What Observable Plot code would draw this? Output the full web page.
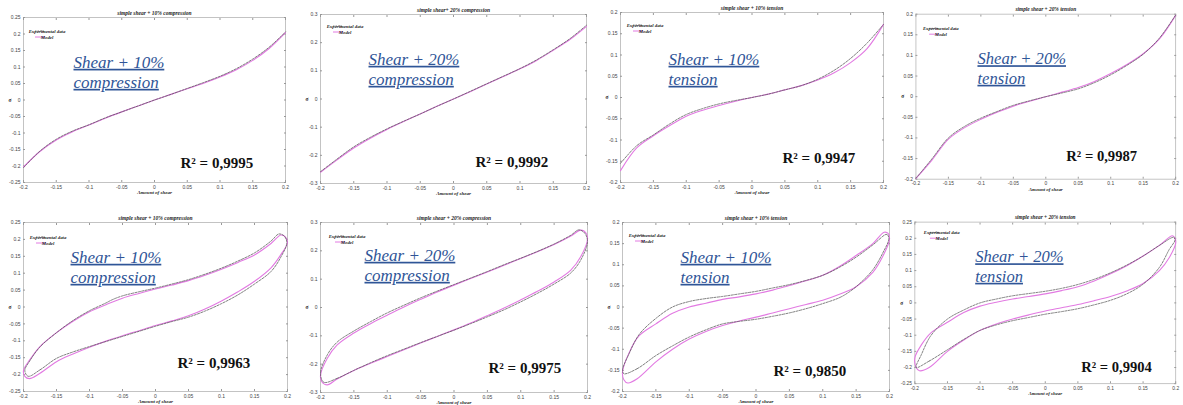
<!DOCTYPE html>
<html>
<head>
<meta charset="utf-8">
<script src="https://cdn.jsdelivr.net/npm/d3@7"></script>
<script src="https://cdn.jsdelivr.net/npm/@observablehq/plot@0.6"></script>
<style>
html,body{margin:0;padding:0;background:#fff;}
body{position:relative;width:1183px;height:405px;overflow:hidden;}
.panel{position:absolute;}
g[fill="#2f5597"] text{ text-decoration: underline; text-decoration-thickness: 1.2px; }
</style>
</head>
<body>
<div id="root"></div>
<script>
// ---------- data ----------
const titles = ["simple shear + 10% compression","simple shear+ 20% compression","simple shear + 10% tension","simple shear + 20% tension",
                "simple shear + 10% compression","simple shear + 20% compression","simple shear + 10% tension","simple shear + 20% tension"];
const bigLabels = ["Shear + 10%\ncompression","Shear + 20%\ncompression","Shear + 10%\ntension","Shear + 20%\ntension",
                   "Shear + 10%\ncompression","Shear + 20%\ncompression","Shear + 10%\ntension","Shear + 20%\ntension"];
const r2Labels = ["R² = 0,9995","R² = 0,9992","R² = 0,9947","R² = 0,9987","R² = 0,9963","R² = 0,9975","R² = 0,9850","R² = 0,9904"];
const xLabel = "Amount of shear";
const yLabel = "σ";
const legendLabels = ["Experimental data","Model"];
const xTicks = [-0.2,-0.15,-0.1,-0.05,0,0.05,0.1,0.15,0.2];
const yTicks20 = [-0.2,-0.15,-0.1,-0.05,0,0.05,0.1,0.15,0.2];
const yTicks25 = [-0.25,-0.2,-0.15,-0.1,-0.05,0,0.05,0.1,0.15,0.2,0.25];
const yTicks30 = [-0.3,-0.2,-0.1,0,0.1,0.2,0.3];
const yDomains = [[-0.25,0.25],[-0.3,0.3],[-0.2,0.2],[-0.2,0.2],[-0.25,0.25],[-0.3,0.3],[-0.2,0.2],[-0.25,0.25]];
const yTickSets = [yTicks25,yTicks30,yTicks20,yTicks20,yTicks25,yTicks30,yTicks20,yTicks25];

// top row: monotonic loading curves
const shearX = [-0.2,-0.175,-0.15,-0.125,-0.1,-0.075,-0.05,-0.025,0,0.025,0.05,0.075,0.1,0.125,0.15,0.175,0.2];
const exp1 = [-0.205,-0.155,-0.119,-0.094,-0.075,-0.054,-0.036,-0.018,0,0.017,0.035,0.053,0.072,0.095,0.124,0.160,0.206];
const mod1 = [-0.203,-0.156,-0.121,-0.096,-0.076,-0.055,-0.036,-0.018,0,0.017,0.034,0.051,0.070,0.092,0.120,0.156,0.204];
const exp2 = [-0.258,-0.213,-0.170,-0.136,-0.106,-0.079,-0.053,-0.026,0,0.027,0.054,0.081,0.108,0.139,0.175,0.214,0.262];
const mod2 = [-0.260,-0.216,-0.174,-0.139,-0.108,-0.080,-0.053,-0.026,0,0.026,0.053,0.080,0.107,0.137,0.173,0.211,0.258];
const exp3 = [-0.155,-0.113,-0.088,-0.062,-0.040,-0.026,-0.015,-0.007,0,0.008,0.018,0.028,0.043,0.064,0.092,0.128,0.172];
const mod3 = [-0.172,-0.118,-0.090,-0.066,-0.044,-0.030,-0.019,-0.009,0,0.008,0.018,0.028,0.041,0.058,0.082,0.115,0.172];
const exp4 = [-0.198,-0.150,-0.100,-0.072,-0.052,-0.036,-0.021,-0.010,0,0.009,0.019,0.034,0.053,0.076,0.103,0.142,0.198];
const mod4 = [-0.198,-0.153,-0.103,-0.075,-0.055,-0.038,-0.023,-0.011,0,0.011,0.022,0.037,0.056,0.078,0.104,0.140,0.197];

// bottom row: hysteresis loops, [shear, stress] in traversal order
const exp5 = [[-0.193,-0.205],[-0.175,-0.186],[-0.15,-0.152],[-0.125,-0.133],[-0.1,-0.117],[-0.075,-0.102],[-0.05,-0.087],[-0.025,-0.072],[0,-0.057],[0.025,-0.043],[0.05,-0.030],[0.075,-0.012],[0.1,0.010],[0.125,0.036],[0.15,0.068],[0.175,0.105],[0.19,0.148],[0.199,0.190],[0.195,0.210],[0.187,0.216],
  [0.175,0.195],[0.15,0.160],[0.125,0.136],[0.1,0.115],[0.075,0.097],[0.05,0.081],[0.025,0.068],[0,0.056],[-0.025,0.045],[-0.05,0.033],[-0.065,0.022],[-0.075,0.012],[-0.1,-0.011],[-0.125,-0.040],[-0.15,-0.076],[-0.175,-0.118],[-0.19,-0.158],[-0.198,-0.188]];
const mod5 = [[-0.191,-0.212],[-0.175,-0.196],[-0.15,-0.162],[-0.125,-0.139],[-0.1,-0.119],[-0.075,-0.101],[-0.05,-0.085],[-0.025,-0.070],[0,-0.055],[0.025,-0.041],[0.05,-0.026],[0.075,-0.006],[0.1,0.018],[0.125,0.045],[0.15,0.076],[0.175,0.116],[0.19,0.155],[0.2,0.190],[0.197,0.207],[0.19,0.213],
  [0.175,0.188],[0.15,0.154],[0.125,0.132],[0.1,0.112],[0.075,0.094],[0.05,0.078],[0.025,0.065],[0,0.053],[-0.025,0.040],[-0.05,0.026],[-0.075,0.007],[-0.1,-0.014],[-0.125,-0.042],[-0.15,-0.076],[-0.175,-0.117],[-0.19,-0.155],[-0.2,-0.188],[-0.198,-0.205]];
const exp6 = [[-0.195,-0.264],[-0.175,-0.250],[-0.15,-0.222],[-0.125,-0.195],[-0.1,-0.170],[-0.075,-0.147],[-0.05,-0.124],[-0.025,-0.102],[0,-0.080],[0.025,-0.057],[0.05,-0.033],[0.075,-0.008],[0.1,0.020],[0.125,0.050],[0.15,0.083],[0.175,0.122],[0.19,0.168],[0.2,0.232],[0.196,0.262],[0.187,0.274],
  [0.175,0.255],[0.15,0.224],[0.125,0.198],[0.1,0.174],[0.075,0.151],[0.05,0.127],[0.025,0.104],[0,0.081],[-0.025,0.058],[-0.05,0.034],[-0.075,0.008],[-0.1,-0.019],[-0.125,-0.050],[-0.15,-0.083],[-0.175,-0.122],[-0.19,-0.168],[-0.2,-0.232]];
const mod6 = [[-0.19,-0.273],[-0.175,-0.252],[-0.15,-0.222],[-0.125,-0.197],[-0.1,-0.173],[-0.075,-0.149],[-0.05,-0.125],[-0.025,-0.102],[0,-0.079],[0.025,-0.055],[0.05,-0.029],[0.075,-0.002],[0.1,0.027],[0.125,0.057],[0.15,0.090],[0.175,0.132],[0.19,0.180],[0.2,0.240],[0.198,0.262],[0.19,0.273],
  [0.175,0.252],[0.15,0.222],[0.125,0.197],[0.1,0.173],[0.075,0.149],[0.05,0.125],[0.025,0.102],[0,0.079],[-0.025,0.055],[-0.05,0.029],[-0.075,0.002],[-0.1,-0.027],[-0.125,-0.057],[-0.15,-0.090],[-0.175,-0.132],[-0.19,-0.180],[-0.2,-0.240],[-0.198,-0.262]];
const exp7 = [[-0.198,-0.158],[-0.178,-0.146],[-0.15,-0.115],[-0.125,-0.092],[-0.1,-0.071],[-0.075,-0.054],[-0.05,-0.040],[-0.025,-0.034],[0,-0.029],[0.025,-0.022],[0.05,-0.014],[0.075,-0.004],[0.1,0.008],[0.125,0.022],[0.14,0.036],[0.155,0.055],[0.175,0.088],[0.19,0.128],[0.199,0.162],[0.196,0.172],
  [0.175,0.147],[0.15,0.118],[0.125,0.094],[0.1,0.075],[0.075,0.063],[0.05,0.053],[0.025,0.045],[0,0.037],[-0.025,0.031],[-0.05,0.025],[-0.075,0.020],[-0.1,0.013],[-0.125,0.000],[-0.15,-0.027],[-0.175,-0.065],[-0.19,-0.110],[-0.2,-0.150]];
const mod7 = [[-0.192,-0.180],[-0.178,-0.170],[-0.15,-0.130],[-0.125,-0.100],[-0.1,-0.076],[-0.075,-0.058],[-0.05,-0.044],[-0.025,-0.033],[0,-0.024],[0.025,-0.014],[0.05,-0.004],[0.075,0.006],[0.1,0.016],[0.125,0.030],[0.15,0.048],[0.175,0.082],[0.19,0.120],[0.2,0.160],[0.198,0.174],[0.192,0.177],
  [0.175,0.150],[0.15,0.122],[0.125,0.096],[0.1,0.075],[0.075,0.062],[0.05,0.051],[0.025,0.040],[0,0.031],[-0.025,0.024],[-0.05,0.018],[-0.075,0.009],[-0.1,0.000],[-0.125,-0.015],[-0.15,-0.040],[-0.175,-0.068],[-0.19,-0.108],[-0.2,-0.154],[-0.198,-0.172]];
const exp8 = [[-0.198,-0.200],[-0.178,-0.180],[-0.15,-0.145],[-0.125,-0.113],[-0.1,-0.085],[-0.075,-0.068],[-0.05,-0.055],[-0.025,-0.045],[0,-0.035],[0.025,-0.027],[0.05,-0.018],[0.075,-0.006],[0.1,0.008],[0.125,0.028],[0.15,0.058],[0.175,0.110],[0.19,0.165],[0.199,0.195],[0.197,0.203],
  [0.175,0.178],[0.15,0.145],[0.125,0.117],[0.1,0.093],[0.075,0.073],[0.05,0.057],[0.025,0.045],[0,0.036],[-0.025,0.029],[-0.05,0.022],[-0.075,0.012],[-0.1,0.000],[-0.125,-0.022],[-0.15,-0.050],[-0.175,-0.100],[-0.19,-0.160]];
const mod8 = [[-0.193,-0.210],[-0.178,-0.200],[-0.15,-0.150],[-0.125,-0.115],[-0.1,-0.085],[-0.075,-0.065],[-0.05,-0.050],[-0.025,-0.037],[0,-0.025],[0.025,-0.015],[0.05,-0.005],[0.075,0.007],[0.1,0.020],[0.125,0.037],[0.15,0.060],[0.175,0.100],[0.19,0.140],[0.2,0.185],[0.199,0.200],[0.195,0.208],
  [0.175,0.178],[0.15,0.145],[0.125,0.115],[0.1,0.090],[0.075,0.068],[0.05,0.050],[0.025,0.038],[0,0.028],[-0.025,0.020],[-0.05,0.012],[-0.075,0.002],[-0.1,-0.010],[-0.125,-0.030],[-0.15,-0.060],[-0.175,-0.092],[-0.19,-0.130],[-0.2,-0.170],[-0.198,-0.200]];

// ---------- layout (page px) ----------
const frames = [[23,17,285,182],[320,14,586,183],[620,12,883,182],[916,14,1182,183],
                [23,222,287,391],[320,222,587,392],[622,222,889,391],[915,222,1183,388]];
const bigPos = [[50,36],[48,36],[48,38],[63,37],[47,26],[44,24],[58,26],[62,27]];
const r2Pos  = [[157,140],[155,142],[162,140],[154,140],[154,135],[168,140],[151,143],[171,143]];
const legPos = [[12,14],[13,12],[13,13],[14,15],[13,15],[15,14],[13,13],[16,11]];

const fmt = d => String(Math.round(d*1000)/1000);
const EXP = "#555555", MOD = "#e27ae2";
const root = document.getElementById("root");

const topPairs = (ys) => shearX.map((x,k) => [x, ys[k]]);
const series = [
  [topPairs(exp1), topPairs(mod1), false],
  [topPairs(exp2), topPairs(mod2), false],
  [topPairs(exp3), topPairs(mod3), false],
  [topPairs(exp4), topPairs(mod4), false],
  [exp5, mod5, true],[exp6, mod6, true],[exp7, mod7, true],[exp8, mod8, true]
];

series.forEach(([expPts, modPts, loop], i) => {
  const [L,T,R,B] = frames[i];
  const mL = 24, mR = 8, mT = 14, mB = 18;
  const yt = yTickSets[i];
  const curve = loop ? "catmull-rom-closed" : "catmull-rom";
  const plot = Plot.plot({
    width: R - L + mL + mR, height: B - T + mT + mB,
    marginLeft: mL, marginRight: mR, marginTop: mT, marginBottom: mB,
    x: {domain: [-0.2, 0.2]},
    y: {domain: yDomains[i]},
    style: {background: "transparent", overflow: "visible"},
    marks: [
      Plot.frame({stroke: "#b5b5b5", strokeWidth: 0.8}),
      Plot.axisX({ticks: xTicks, anchor: "bottom", tickSize: -2, text: null, label: null, stroke: "#999"}),
      Plot.axisX({ticks: xTicks, anchor: "top", tickSize: -2, text: null, label: null, stroke: "#999"}),
      Plot.axisY({ticks: yt, anchor: "left", tickSize: -2, text: null, label: null, stroke: "#999"}),
      Plot.axisY({ticks: yt, anchor: "right", tickSize: -2, text: null, label: null, stroke: "#999"}),
      Plot.axisX({ticks: xTicks, anchor: "bottom", tickSize: 0, tickPadding: 2.5, label: null, tickFormat: fmt,
                  fontSize: 5, color: "#444", fontFamily: "Liberation Sans"}),
      Plot.axisY({ticks: yt, anchor: "left", tickSize: 0, tickPadding: 3, label: null, tickFormat: fmt,
                  fontSize: 5, color: "#444", fontFamily: "Liberation Sans"}),
      Plot.line(modPts, {x: d => d[0], y: d => d[1], stroke: MOD, strokeWidth: 1.1, curve}),
      Plot.line(expPts, {x: d => d[0], y: d => d[1], stroke: EXP, strokeWidth: 0.75, strokeDasharray: "2.2,1.3", curve}),
      Plot.text([titles[i]], {text: d => d, frameAnchor: "top", dy: -3, lineAnchor: "bottom",
                  fontSize: 5.5, fontStyle: "italic", fontWeight: "bold", fontFamily: "Liberation Serif", fill: "#222"}),
      Plot.text([xLabel], {text: d => d, frameAnchor: "bottom", dy: 10, lineAnchor: "middle",
                  fontSize: 5, fontStyle: "italic", fontWeight: "bold", fontFamily: "Liberation Serif", fill: "#222"}),
      Plot.text([yLabel], {text: d => d, frameAnchor: "left", dx: -15, lineAnchor: "middle",
                  fontSize: 5.5, fontWeight: "bold", fontFamily: "Liberation Serif", fill: "#222"}),
      Plot.text([bigLabels[i]], {text: d => d, frameAnchor: "top-left", dx: bigPos[i][0], dy: bigPos[i][1],
                  textAnchor: "start", lineAnchor: "top", lineHeight: 1.18,
                  fontSize: 17, fontStyle: "italic", fontFamily: "Liberation Serif", fill: "#2f5597"}),
      Plot.text([r2Labels[i]], {text: d => d, frameAnchor: "top-left", dx: r2Pos[i][0], dy: r2Pos[i][1],
                  textAnchor: "start", lineAnchor: "top",
                  fontSize: 15, fontWeight: "bold", fontFamily: "Liberation Serif", fill: "#111"})
    ]
  });
  // legend
  const g = d3.select(plot).append("g")
    .attr("transform", `translate(${mL + legPos[i][0]},${mT + legPos[i][1]})`);
  legendLabels.forEach((lab, j) => {
    g.append("line").attr("x1", 0).attr("x2", 10).attr("y1", j * 6).attr("y2", j * 6)
      .attr("stroke", j ? MOD : EXP).attr("stroke-width", j ? 1 : 0.7)
      .attr("stroke-dasharray", j ? null : "1.5,1");
    g.append("text").attr("x", 12).attr("y", j * 6 + 1.6).text(lab)
      .attr("font-size", 4.8).attr("font-style", "italic").attr("font-weight", "bold")
      .attr("font-family", "Liberation Serif").attr("fill", "#222");
  });
  const div = document.createElement("div");
  div.className = "panel";
  div.style.left = (L - mL) + "px";
  div.style.top = (T - mT) + "px";
  div.appendChild(plot);
  root.appendChild(div);
});
</script>
</body>
</html>
